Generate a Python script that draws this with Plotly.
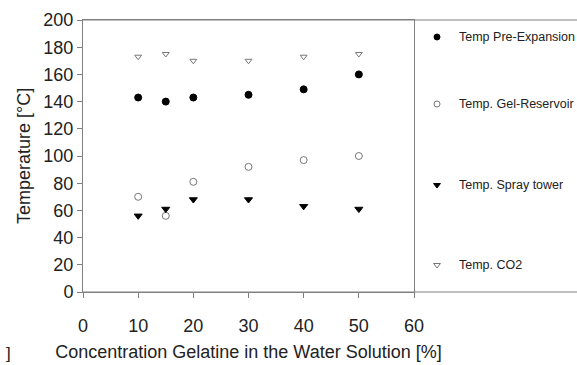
import plotly.graph_objects as go

conc = [10, 15, 20, 30, 40, 50]
pre_expansion = [143, 140, 143, 145, 149, 160]
gel_reservoir = [70, 56, 81, 92, 97, 100]
spray_tower = [56, 61, 68, 68, 63, 61]
co2 = [173, 175, 170, 170, 173, 175]

names = ["Temp Pre-Expansion", "Temp. Gel-Reservoir", "Temp. Spray tower", "Temp. CO2"]
series = [pre_expansion, gel_reservoir, spray_tower, co2]
symbols = ["circle", "circle-open", "triangle-down", "triangle-down-open"]
colors = ["#000000", "#777777", "#000000", "#777777"]
sizes = [7, 7, 7, 6]

# legend layout (pixel positions in legend panel)
legend_marker_x = 437
legend_text_x = 457
legend_rows_y = [37, 104, 185, 265]

W, H = 577, 365
L, T, B = 83, 20, 73
plot_right = 414
pw_all = W - L
split = (plot_right - L) / pw_all

fig = go.Figure()
for i, (n, s) in enumerate(zip(names, series)):
    fig.add_trace(go.Scatter(
        x=conc, y=s, mode="markers", name=n, showlegend=False,
        marker=dict(symbol=symbols[i], size=sizes[i], color=colors[i],
                    line=dict(color=colors[i], width=1)),
    ))
    fig.add_trace(go.Scatter(
        x=[legend_marker_x], y=[legend_rows_y[i]], xaxis="x2", yaxis="y2",
        mode="markers", showlegend=False, hoverinfo="skip",
        marker=dict(symbol=symbols[i], size=6, color=colors[i],
                    line=dict(color=colors[i], width=1)),
    ))
    fig.add_annotation(text=n, x=legend_text_x, y=legend_rows_y[i], xref="x2", yref="y2",
                       xanchor="left", yanchor="middle", showarrow=False,
                       font=dict(size=12.5, color="#222222"))

axis_col = "#808080"
font = dict(family="Liberation Sans, Arial, sans-serif", color="#222222")
fig.update_layout(
    width=W, height=H,
    margin=dict(l=L, r=0, t=T, b=B),
    paper_bgcolor="white", plot_bgcolor="white",
    font=font,
    showlegend=False,
    xaxis=dict(domain=[0, split], range=[0, 60], tickvals=[0, 10, 20, 30, 40, 50, 60],
               showgrid=False, zeroline=False, showline=True, linecolor=axis_col,
               linewidth=1, ticks="outside", ticklen=5, tickcolor=axis_col,
               tickfont=dict(size=18), ticklabelstandoff=12, mirror=True, automargin=False,
               title=dict(text="Concentration Gelatine in the Water Solution [%]",
                          font=dict(size=18), standoff=10)),
    yaxis=dict(range=[0, 200], tickvals=list(range(0, 201, 20)),
               showgrid=False, zeroline=False, showline=True, linecolor=axis_col,
               linewidth=1, ticks="outside", ticklen=5, tickcolor=axis_col,
               tickfont=dict(size=18), mirror=True, automargin=False,
               title=dict(text="Temperature [°C]", font=dict(size=18), standoff=8)),
    xaxis2=dict(domain=[split, 1], range=[plot_right, W], visible=False, fixedrange=True),
    yaxis2=dict(anchor="x2", range=[H - B, T], visible=False, fixedrange=True),
)
fig.add_shape(type="line", xref="paper", yref="paper", x0=0, x1=1, y0=1, y1=1,
              line=dict(color=axis_col, width=1))
fig.add_shape(type="line", xref="paper", yref="paper", x0=0, x1=1, y0=0, y1=0,
              line=dict(color=axis_col, width=1))
ph = H - T - B
fig.add_annotation(text="]", xref="paper", yref="paper", x=-75 / pw_all, y=-61 / ph,
                   showarrow=False, font=dict(size=17), xanchor="center", yanchor="middle")

fig.write_html("out.html")
